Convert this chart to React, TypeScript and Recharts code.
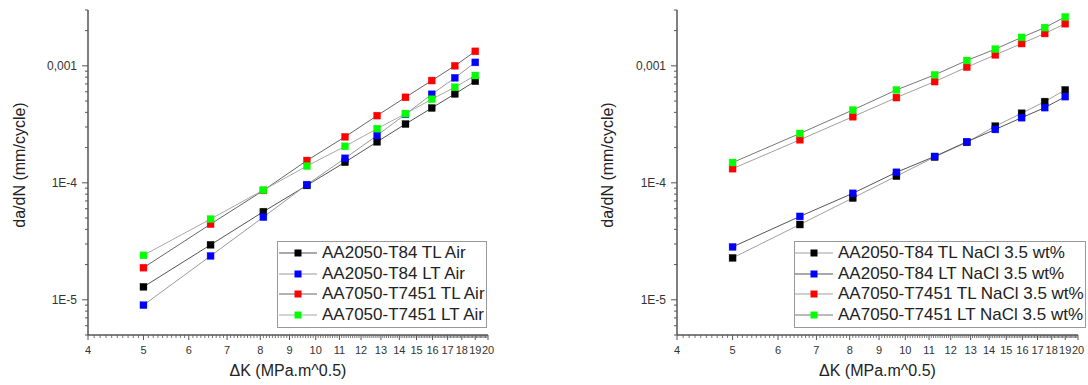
import { LineChart, Line, XAxis, YAxis } from 'recharts'

// ΔK values (MPa.m^0.5), same for every series
const deltaK = [5, 6.55, 8.1, 9.65, 11.25, 12.8, 14.35, 15.95, 17.5, 19.0]

// da/dN in air (mm/cycle)
const air2050TL = [1.29e-5, 2.95e-5, 5.66e-5, 9.5e-5, 1.5e-4, 2.24e-4, 3.18e-4, 4.36e-4, 5.75e-4, 7.39e-4]
const air2050LT = [9.0e-6, 2.37e-5, 5.09e-5, 9.64e-5, 1.62e-4, 2.54e-4, 3.85e-4, 5.71e-4, 7.89e-4, 1.07e-3]
const air7050TL = [1.88e-5, 4.43e-5, 8.6e-5, 1.55e-4, 2.47e-4, 3.75e-4, 5.38e-4, 7.48e-4, 1.0e-3, 1.33e-3]
const air7050LT = [2.4e-5, 4.9e-5, 8.67e-5, 1.39e-4, 2.05e-4, 2.9e-4, 3.9e-4, 5.18e-4, 6.56e-4, 8.26e-4]

// da/dN in NaCl 3.5 wt% (mm/cycle)
const nacl2050TL = [2.28e-5, 4.4e-5, 7.41e-5, 1.14e-4, 1.66e-4, 2.22e-4, 3.05e-4, 3.93e-4, 4.94e-4, 6.22e-4]
const nacl2050LT = [2.83e-5, 5.16e-5, 8.13e-5, 1.23e-4, 1.68e-4, 2.24e-4, 2.86e-4, 3.6e-4, 4.39e-4, 5.45e-4]
const nacl7050TL = [1.32e-4, 2.33e-4, 3.67e-4, 5.35e-4, 7.33e-4, 9.74e-4, 1.24e-3, 1.55e-3, 1.89e-3, 2.29e-3]
const nacl7050LT = [1.49e-4, 2.64e-4, 4.19e-4, 6.22e-4, 8.37e-4, 1.11e-3, 1.39e-3, 1.75e-3, 2.12e-3, 2.62e-3]

const airNames = ['AA2050-T84 TL Air', 'AA2050-T84 LT Air', 'AA7050-T7451 TL Air', 'AA7050-T7451 LT Air']
const naclNames = [
  'AA2050-T84 TL NaCl 3.5 wt%',
  'AA2050-T84 LT NaCl 3.5 wt%',
  'AA7050-T7451 TL NaCl 3.5 wt%',
  'AA7050-T7451 LT NaCl 3.5 wt%',
]
const markerColors = ['#000000', '#0000ff', '#ff0000', '#00ff00']
const airLineColors = ['#555555', '#9a9a9a', '#666666', '#a8a8a8']
const naclLineColors = ['#a0a0a0', '#555555', '#a0a0a0', '#777777']

const yMajorTicks = [1e-5, 1e-4, 1e-3]
const yMajorLabels = ['1E-5', '1E-4', '0,001']
const xMajorTicks = [4, 5, 6, 7, 8, 9, 10, 11, 12, 13, 14, 15, 16, 17, 18, 19, 20]

const FONT = '"Liberation Sans", Arial, sans-serif'
const W = 544
const H = 385
const PLOT_TOP = 10
const PLOT_BOTTOM = 335

// minor ticks: 2..9 per decade on y, 0.1 steps on x
const yTicks: number[] = []
for (const d of [1e-6, 1e-5, 1e-4, 1e-3]) {
  for (let m = 1; m <= 9; m++) {
    const v = Number((m * d).toPrecision(3))
    if (v >= 5e-6 && v <= 3e-3) yTicks.push(v)
  }
}
const xTicks: number[] = []
for (let i = 40; i <= 200; i++) xTicks.push(i / 10)

const buildRows = (series: number[][]) =>
  deltaK.map((k, i) => ({ k, s0: series[0][i], s1: series[1][i], s2: series[2][i], s3: series[3][i] }))

const airRows = buildRows([air2050TL, air2050LT, air7050TL, air7050LT])
const naclRows = buildRows([nacl2050TL, nacl2050LT, nacl7050TL, nacl7050LT])

const Square = (color: string) => (props: any) => {
  const { cx, cy, index } = props
  if (cx == null || cy == null) return <g key={index} />
  return <rect key={index} x={cx - 3.5} y={cy - 3.5} width={7} height={7} fill={color} stroke={color} strokeOpacity={0.6} strokeWidth={0.5} />
}

const makeYTick = (axisX: number) => (props: any) => {
  const { y, payload } = props
  const idx = yMajorTicks.findIndex((t) => Math.abs(t - payload.value) / t < 1e-6)
  const major = idx >= 0
  return (
    <g>
      <line x1={axisX - (major ? 6 : 3)} x2={axisX} y1={y} y2={y} stroke="#555" strokeWidth={1} />
      {major && (
        <text x={axisX - 11} y={y} textAnchor="end" dominantBaseline="central" fontSize={12} fill="#333" fontFamily={FONT}>
          {yMajorLabels[idx]}
        </text>
      )}
    </g>
  )
}

const XTick = (props: any) => {
  const { x, payload } = props
  const major = xMajorTicks.some((t) => Math.abs(t - payload.value) < 1e-6)
  return (
    <g>
      <line x1={x} x2={x} y1={PLOT_BOTTOM} y2={PLOT_BOTTOM + (major ? 5 : 3)} stroke="#555" strokeWidth={major ? 1 : 0.8} />
      {major && (
        <text x={x} y={PLOT_BOTTOM + 15} textAnchor="middle" dominantBaseline="central" fontSize={11} fill="#333" fontFamily={FONT}>
          {Math.round(payload.value)}
        </text>
      )}
    </g>
  )
}

interface PanelProps {
  rows: any[]
  names: string[]
  lineColors: string[]
  left: number
  right: number
  yLabelX: number
  legend: { left: number; width: number; lineX: number; textX: number }
}

function Panel({ rows, names, lineColors, left, right, yLabelX, legend }: PanelProps) {
  const plotCenter = (left + (W - right)) / 2
  return (
    <div style={{ position: 'relative', width: W, height: H }}>
      <LineChart width={W} height={H} data={rows} margin={{ top: PLOT_TOP, right, bottom: 0, left: 0 }}>
        <XAxis
          dataKey="k"
          type="number"
          scale="log"
          domain={[4, 20]}
          allowDataOverflow
          ticks={xTicks}
          interval={0}
          tickLine={false}
          tick={XTick}
          height={H - PLOT_BOTTOM}
          axisLine={{ stroke: '#555', strokeWidth: 1.5 }}
          label={(p: any) => (
            <text x={plotCenter} y={370} textAnchor="middle" dominantBaseline="central" fontSize={16} fill="#222" fontFamily={FONT}>
              ΔK (MPa.m^0.5)
            </text>
          )}
        />
        <YAxis
          type="number"
          scale="log"
          domain={[5e-6, 3e-3]}
          allowDataOverflow
          ticks={yTicks}
          interval={0}
          tickLine={false}
          tick={makeYTick(left)}
          width={left}
          axisLine={{ stroke: '#555', strokeWidth: 1.5 }}
          label={(p: any) => (
            <text
              x={yLabelX}
              y={165}
              transform={`rotate(-90 ${yLabelX} 165)`}
              textAnchor="middle"
              dominantBaseline="central"
              fontSize={16}
              fill="#222"
              fontFamily={FONT}
            >
              da/dN (mm/cycle)
            </text>
          )}
        />
        {['s0', 's1', 's2', 's3'].map((key, i) => (
          <Line
            key={key}
            dataKey={key}
            stroke={lineColors[i]}
            strokeWidth={1}
            dot={Square(markerColors[i])}
            activeDot={false}
            isAnimationActive={false}
          />
        ))}
      </LineChart>
      <div
        style={{
          position: 'absolute',
          left: legend.left,
          top: 241,
          width: legend.width,
          height: 87,
          boxSizing: 'border-box',
          border: '1px solid #999',
          background: '#fff',
          paddingTop: 1,
          fontFamily: FONT,
        }}
      >
        {names.map((name, i) => (
          <div key={name} style={{ position: 'relative', height: 20.7 }}>
            <svg width={40} height={20} style={{ position: 'absolute', left: 0, top: 0 }}>
              <line x1={legend.lineX} x2={legend.lineX + 38} y1={10} y2={10} stroke={lineColors[i]} strokeWidth={1.2} />
              <rect x={legend.lineX + 15.5} y={6.5} width={7} height={7} fill={markerColors[i]} />
            </svg>
            <span
              style={{
                position: 'absolute',
                left: legend.textX,
                top: 0,
                lineHeight: '20px',
                fontSize: 17,
                color: '#222',
                whiteSpace: 'nowrap',
              }}
            >
              {name}
            </span>
          </div>
        ))}
      </div>
    </div>
  )
}

export default function App() {
  return (
    <div style={{ position: 'absolute', left: 0, top: 0, width: 1088, height: H, display: 'flex', background: '#fff' }}>
      <Panel
        rows={airRows}
        names={airNames}
        lineColors={airLineColors}
        left={88}
        right={56}
        yLabelX={19}
        legend={{ left: 277, width: 210, lineX: 1, textX: 44 }}
      />
      <Panel
        rows={naclRows}
        names={naclNames}
        lineColors={naclLineColors}
        left={133}
        right={10}
        yLabelX={63}
        legend={{ left: 250, width: 292, lineX: 0, textX: 43 }}
      />
    </div>
  )
}
